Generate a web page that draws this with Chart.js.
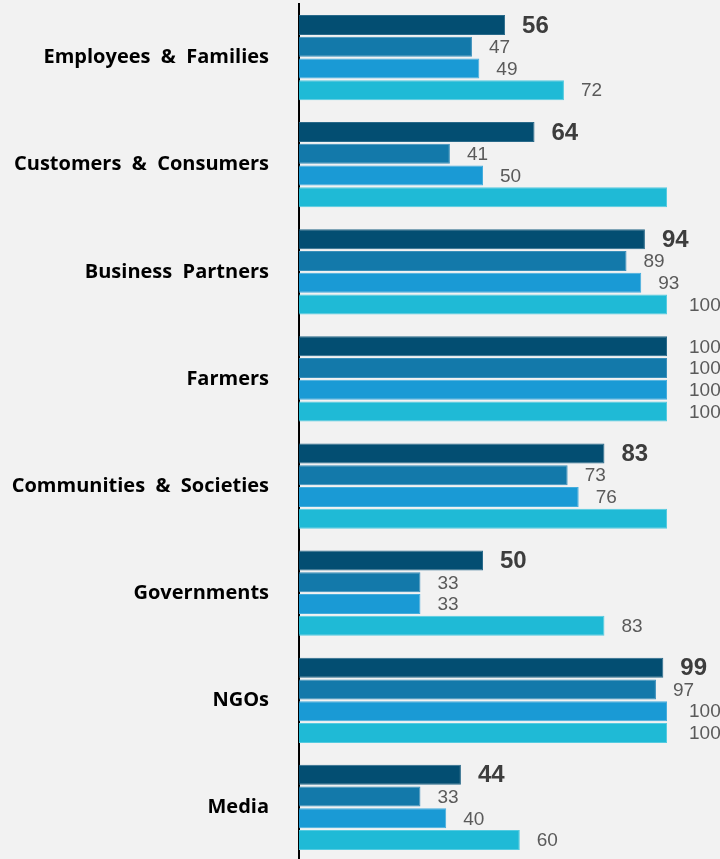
<!DOCTYPE html>
<html>
<head>
<meta charset="utf-8">
<script src="https://cdn.jsdelivr.net/npm/chart.js@4/dist/chart.umd.min.js"></script>
<style>
  html, body { margin: 0; padding: 0; background: #f2f2f2; overflow: hidden; }
  #wrap { position: relative; width: 720px; height: 861px; }
</style>
</head>
<body>
<div id="wrap"><canvas id="chart"></canvas></div>
<script>
// Stakeholder groups (double spaces as in the source labels)
const categories = [
  'Employees  &  Families',
  'Customers  &  Consumers',
  'Business  Partners',
  'Farmers',
  'Communities  &  Societies',
  'Governments',
  'NGOs',
  'Media',
];

const series1 = [56, 64, 94, 100, 83, 50, 99, 44];
const series2 = [47, 41, 89, 100, 73, 33, 97, 33];
const series3 = [49, 50, 93, 100, 76, 33, 100, 40];
const series4 = [72, 100, 100, 100, 100, 83, 100, 60];

// Value labels shown next to the bars (null = no label in the source)
const labels1 = [56, 64, 94, 100, 83, 50, 99, 44];
const labels2 = [47, 41, 89, 100, 73, 33, 97, 33];
const labels3 = [49, 50, 93, 100, 76, 33, 100, 40];
const labels4 = [72, null, 100, 100, null, 83, 100, 60];

const COLORS = ['#034e72', '#1379aa', '#1a9ad5', '#1fbad6'];
const BORDERS = ['#2a6a8a', '#3a8fba', '#45addd', '#55cbe0'];

const valueLabels = {
  id: 'valueLabels',
  afterDatasetsDraw(chart) {
    const { ctx } = chart;
    const all = [labels1, labels2, labels3, labels4];
    chart.data.datasets.forEach((ds, di) => {
      const meta = chart.getDatasetMeta(di);
      meta.data.forEach((bar, i) => {
        const v = all[di][i];
        if (v == null) return;
        ctx.save();
        // first series is bold, except the full-width 100s
        if (di === 0 && v < 100) {
          ctx.font = 'bold 24px "Liberation Sans", Arial, sans-serif';
          ctx.fillStyle = '#3d3d3d';
        } else {
          ctx.font = '19px "Liberation Sans", Arial, sans-serif';
          ctx.fillStyle = '#5a5a5a';
        }
        ctx.textAlign = 'left';
        ctx.textBaseline = 'middle';
        ctx.fillText(String(v), bar.x + (v >= 100 ? 22 : 17), bar.y + 1);
        ctx.restore();
      });
    });
  },
};

const seriesData = [series1, series2, series3, series4];

new Chart(document.getElementById('chart').getContext('2d'), {
  type: 'bar',
  data: {
    labels: categories,
    datasets: seriesData.map((d, i) => ({
      label: 'Series ' + (i + 1),
      data: d,
      backgroundColor: COLORS[i],
      borderColor: BORDERS[i],
      borderWidth: 1,
      borderSkipped: 'left',
      categoryPercentage: 0.812,
      barPercentage: 0.92,
    })),
  },
  options: {
    indexAxis: 'y',
    responsive: true,
    maintainAspectRatio: false,
    animation: false,
    layout: { padding: { top: 4, right: 53, bottom: 0, left: 0 } },
    plugins: {
      legend: { display: false },
      tooltip: { enabled: false },
    },
    scales: {
      x: { display: false, min: 0, max: 100 },
      y: {
        z: 1,
        grid: { display: false, drawTicks: false },
        border: { display: true, color: '#000', width: 2 },
        ticks: {
          padding: 30,
          color: '#000',
          font: { family: '"Open Sans", sans-serif', size: 20, weight: 'bold' },
        },
        afterFit: (scale) => {
          scale.width = 299;
          // tick padding otherwise also pads the top/bottom of the plot
          scale.paddingTop = 0;
          scale.paddingBottom = 0;
        },
      },
    },
  },
  plugins: [valueLabels],
});
</script>
</body>
</html>
